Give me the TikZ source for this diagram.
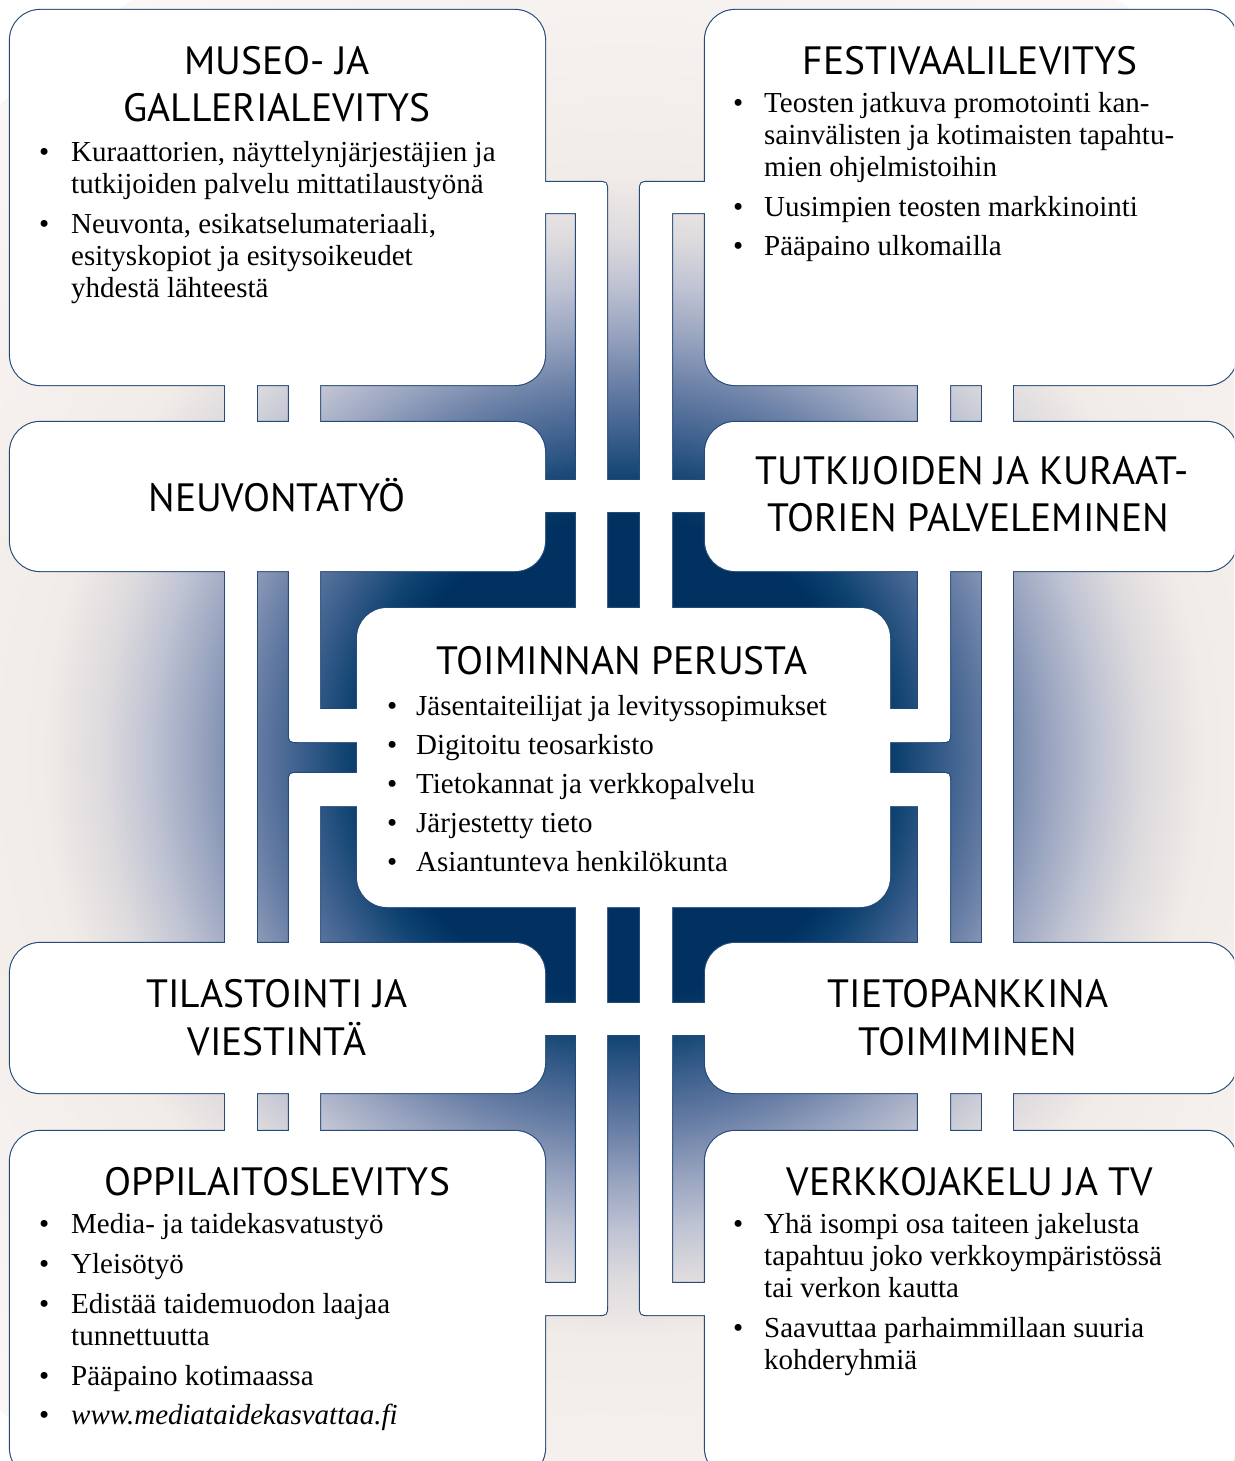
\documentclass[tikz,border=0pt]{standalone}
\usepackage{fontspec}
\setmainfont{Liberation Serif}
\newfontfamily\headfont{PT Sans}
\usepackage{array}
\definecolor{navy}{RGB}{0,49,96}
\definecolor{sA}{RGB}{14,66,112}
\definecolor{sB}{RGB}{58,94,140}
\definecolor{sC}{RGB}{104,126,165}
\definecolor{sD}{RGB}{150,162,190}
\definecolor{sE}{RGB}{190,194,210}
\definecolor{sF}{RGB}{222,219,222}
\definecolor{sG}{RGB}{242,236,232}
\definecolor{cream}{RGB}{250,247,245}
\definecolor{edgeblue}{RGB}{38,74,120}
\pgfdeclareradialshading{bgshade}{\pgfpoint{0bp}{0bp}}{%
 color(0bp)=(navy); color(240bp)=(navy); color(275bp)=(sA);
 color(320bp)=(sB); color(370bp)=(sC); color(420bp)=(sD);
 color(470bp)=(sE); color(520bp)=(sF); color(580bp)=(sG);
 color(900bp)=(cream)}
\newcommand\blst[2]{\begin{tabular}[t]{@{}p{#1}@{}l@{}}#2\end{tabular}}
\tikzset{
 outl/.style={draw=edgeblue, line width=2.2pt, line join=round},
 wfill/.style={fill=white},
 cardr/.style={rounded corners=30pt},
 head/.style={font=\headfont\fontsize{39.5}{47}\selectfont, inner sep=0pt, anchor=base},
 lst/.style={font=\fontsize{29}{32}\selectfont, inner sep=0pt, anchor=base west},
}
% cards
\def\cA{(10,10) rectangle (545,385)}
\def\cB{(705,10) rectangle (1237,385)}
\def\cC{(10,422) rectangle (545,571)}
\def\cD{(705,422) rectangle (1237,571)}
\def\cE{(357,608) rectangle (890,907)}
\def\cF{(10,943) rectangle (545,1093)}
\def\cG{(705,943) rectangle (1237,1093)}
\def\cH{(10,1131) rectangle (545,1478)}
\def\cI{(705,1131) rectangle (1237,1478)}
% white channels
\def\wA{(225,380) rectangle (257,1136)}
\def\wB{(982,380) rectangle (1013,1136)}
\def\wC{(289,380) -- (320,380) -- (320,709) -- (362,709) -- (362,742) -- (299,742) .. controls (289,742) .. (289,732) -- cycle}
\def\wD{(289,1136) -- (320,1136) -- (320,806) -- (362,806) -- (362,773) -- (299,773) .. controls (289,773) .. (289,783) -- cycle}
\def\wE{(950,380) -- (918,380) -- (918,709) -- (885,709) -- (885,742) -- (940,742) .. controls (950,742) .. (950,732) -- cycle}
\def\wF{(950,1136) -- (918,1136) -- (918,806) -- (885,806) -- (885,773) -- (940,773) .. controls (950,773) .. (950,783) -- cycle}
\def\wG{(540,182) -- (597,182) .. controls (607,182) .. (607,192) -- (607,612) -- (576,612) -- (576,213) -- (540,213) -- cycle}
\def\wH{(710,182) -- (650,182) .. controls (640,182) .. (640,192) -- (640,612) -- (672,612) -- (672,213) -- (710,213) -- cycle}
\def\wI{(540,480) rectangle (710,512)}
\def\wJ{(540,1003) rectangle (710,1035)}
\def\wK{(540,1315) -- (597,1315) .. controls (607,1315) .. (607,1305) -- (607,903) -- (576,903) -- (576,1283) -- (540,1283) -- cycle}
\def\wL{(710,1315) -- (650,1315) .. controls (640,1315) .. (640,1305) -- (640,903) -- (672,903) -- (672,1283) -- (710,1283) -- cycle}
\begin{document}
\begin{tikzpicture}[x=1pt,y=-1pt]
\useasboundingbox (0,0) rectangle (1234,1461);
\begin{scope}
\clip (0,0) rectangle (1234,1461);
\node[inner sep=0pt, outer sep=0pt] (bg) at (624,757) {\pgfuseshading{bgshade}};
% outlines
\draw[outl] \wA; \draw[outl] \wB; \draw[outl] \wC; \draw[outl] \wD;
\draw[outl] \wE; \draw[outl] \wF; \draw[outl] \wG; \draw[outl] \wH;
\draw[outl] \wI; \draw[outl] \wJ; \draw[outl] \wK; \draw[outl] \wL;
\draw[outl,cardr] \cA; \draw[outl,cardr] \cB; \draw[outl,cardr] \cC;
\draw[outl,cardr] \cD; \draw[outl,cardr] \cE; \draw[outl,cardr] \cF;
\draw[outl,cardr] \cG; \draw[outl,cardr] \cH; \draw[outl,cardr] \cI;
% white fills
\fill[wfill] \wA; \fill[wfill] \wB; \fill[wfill] \wC; \fill[wfill] \wD;
\fill[wfill] \wE; \fill[wfill] \wF; \fill[wfill] \wG; \fill[wfill] \wH;
\fill[wfill] \wI; \fill[wfill] \wJ; \fill[wfill] \wK; \fill[wfill] \wL;
\fill[wfill,cardr] \cA; \fill[wfill,cardr] \cB; \fill[wfill,cardr] \cC;
\fill[wfill,cardr] \cD; \fill[wfill,cardr] \cE; \fill[wfill,cardr] \cF;
\fill[wfill,cardr] \cG; \fill[wfill,cardr] \cH; \fill[wfill,cardr] \cI;
\end{scope}
% headings
\node[head] (h1a) at (277,74.5) {MUSEO- JA};
\node[head] (h1b) at (277,121.5) {GALLERIALEVITYS};
\node[head] (h2) at (970,74.5) {FESTIVAALILEVITYS};
\node[head] (h3) at (277,511) {NEUVONTATYÖ};
\node[head] (h4a) at (972,484.5) {TUTKIJOIDEN JA KURAAT-};
\node[head] (h4b) at (968,531.5) {TORIEN PALVELEMINEN};
\node[head] (h5) at (622,674.5) {TOIMINNAN PERUSTA};
\node[head] (h6a) at (277,1007.5) {TILASTOINTI JA};
\node[head] (h6b) at (277,1055.5) {VIESTINTÄ};
\node[head] (h7a) at (968,1007.5) {TIETOPANKKINA};
\node[head] (h7b) at (968,1055.5) {TOIMIMINEN};
\node[head] (h8) at (277,1195.5) {OPPILAITOSLEVITYS};
\node[head] (h9) at (970,1195.5) {VERKKOJAKELU JA TV};
% lists
\node[lst] (l1) at (39,161) {\blst{32pt}{%
\textbullet & Kuraattorien, näyttelynjärjestäjien ja\\
 & tutkijoiden palvelu mittatilaustyönä\\[8pt]
\textbullet & Neuvonta, esikatselumateriaali,\\
 & esityskopiot ja esitysoikeudet\\
 & yhdestä lähteestä}};
\node[lst] (l2) at (733,113) {\blst{31pt}{%
\textbullet & Teosten jatkuva promotointi kan-\\
 & sainvälisten ja kotimaisten tapahtu-\\
 & mien ohjelmistoihin\\[8pt]
\textbullet & Uusimpien teosten markkinointi\\[7pt]
\textbullet & Pääpaino ulkomailla}};
\node[lst] (l5) at (387,715) {\blst{29pt}{%
\textbullet & Jäsentaiteilijat ja levityssopimukset\\[7pt]
\textbullet & Digitoitu teosarkisto\\[7pt]
\textbullet & Tietokannat ja verkkopalvelu\\[7pt]
\textbullet & Järjestetty tieto\\[7pt]
\textbullet & Asiantunteva henkilökunta}};
\node[lst] (l8) at (39,1233) {\blst{32pt}{%
\textbullet & Media- ja taidekasvatustyö\\[8pt]
\textbullet & Yleisötyö\\[8pt]
\textbullet & Edistää taidemuodon laajaa\\
 & tunnettuutta\\[8pt]
\textbullet & Pääpaino kotimaassa\\[7pt]
\textbullet & \textit{www.mediataidekasvattaa.fi}}};
\node[lst] (l9) at (733,1233) {\blst{31pt}{%
\textbullet & Yhä isompi osa taiteen jakelusta\\
 & tapahtuu joko verkkoympäristössä\\
 & tai verkon kautta\\[8pt]
\textbullet & Saavuttaa parhaimmillaan suuria\\
 & kohderyhmiä}};
\end{tikzpicture}
\end{document}
